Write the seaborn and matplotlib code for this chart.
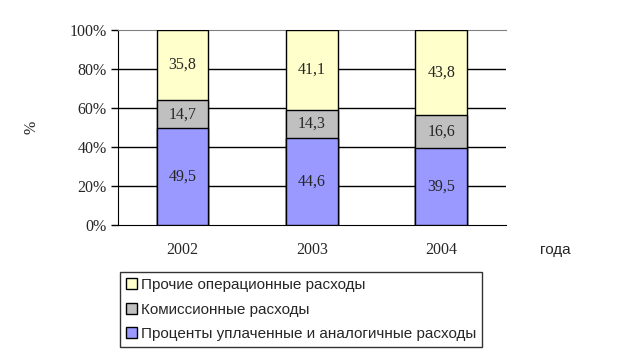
import matplotlib
matplotlib.use("Agg")
import matplotlib.pyplot as plt
import seaborn as sns
import pandas as pd
import numpy as np
from matplotlib.patches import Patch

# data
years = ["2002", "2003", "2004"]
interest = [49.5, 44.6, 39.5]      # Проценты уплаченные и аналогичные расходы
commission = [14.7, 14.3, 16.6]    # Комиссионные расходы
other = [35.8, 41.1, 43.8]         # Прочие операционные расходы
series_names = ["Проценты уплаченные и аналогичные расходы",
                "Комиссионные расходы",
                "Прочие операционные расходы"]
colors = ["#9999FF", "#C0C0C0", "#FFFFCC"]

sns.set_style("white")
serif = "Liberation Serif"
sans = "Liberation Sans"

fig = plt.figure(figsize=(6.37, 3.59), dpi=100)
ax = fig.add_axes([0.1852, 0.3733, 0.609, 0.5431])

vals = np.array([interest, commission, other])
tot = vals.sum(axis=0)
pct = vals / tot * 100
cum = np.cumsum(pct, axis=0)
df = pd.DataFrame({"year": years})

# draw cumulative heights from the top down so each segment shows
for i in [2, 1, 0]:
    df["h"] = cum[i]
    sns.barplot(data=df, x="year", y="h", color=colors[i], width=0.4,
                edgecolor="black", linewidth=1, saturation=1, ax=ax, zorder=3)

# segment labels
for j in range(len(years)):
    bottom = 0
    for i in range(3):
        ax.text(j, bottom + pct[i, j] / 2, f"{vals[i, j]:.1f}".replace(".", ","),
                ha="center", va="center", fontsize=11.5, family=serif, zorder=4)
        bottom += pct[i, j]

ax.set_xlim(-0.5, 2.5)
ax.set_ylim(0, 100)
ax.set_yticks([0, 20, 40, 60, 80, 100])
ax.set_yticklabels([f"{v}%" for v in [0, 20, 40, 60, 80, 100]],
                   family=serif, fontsize=11.5)
ax.set_xticks([0, 1, 2])
ax.set_xticklabels(years, family=serif, fontsize=11.5)
ax.set_xticks([-0.5, 0.5, 1.5, 2.5], minor=True)
ax.tick_params(axis="x", which="major", length=0, pad=12)
ax.tick_params(axis="x", which="minor", length=5, width=1, color="black", direction="out")
ax.tick_params(axis="y", length=5, width=1, color="black", direction="out", left=True, pad=3)
ax.set_xlabel("")
ax.set_ylabel("%", family=serif, fontsize=11.5, labelpad=22)

for y in [20, 40, 60, 80]:
    ax.axhline(y, color="black", lw=1, zorder=1)
ax.spines["right"].set_visible(False)
ax.spines["top"].set_color("#808080")
ax.spines["left"].set_color("black")
ax.spines["bottom"].set_color("black")

fig.text(0.848, 0.303, "года", family=sans, fontsize=11, ha="left", va="center")

handles = [Patch(facecolor=colors[i], edgecolor="black", lw=1, label=series_names[i])
           for i in [2, 1, 0]]
leg = fig.legend(handles=handles, loc="upper left", bbox_to_anchor=(0.188, 0.243),
                 prop={"family": sans, "size": 11}, frameon=True, fancybox=False,
                 handlelength=0.7, handleheight=0.7, handletextpad=0.25,
                 labelspacing=0.68, borderpad=0.42, borderaxespad=0)
leg.get_frame().set_edgecolor("black")
leg.get_frame().set_linewidth(1)

fig.savefig("out.png", dpi=100)
